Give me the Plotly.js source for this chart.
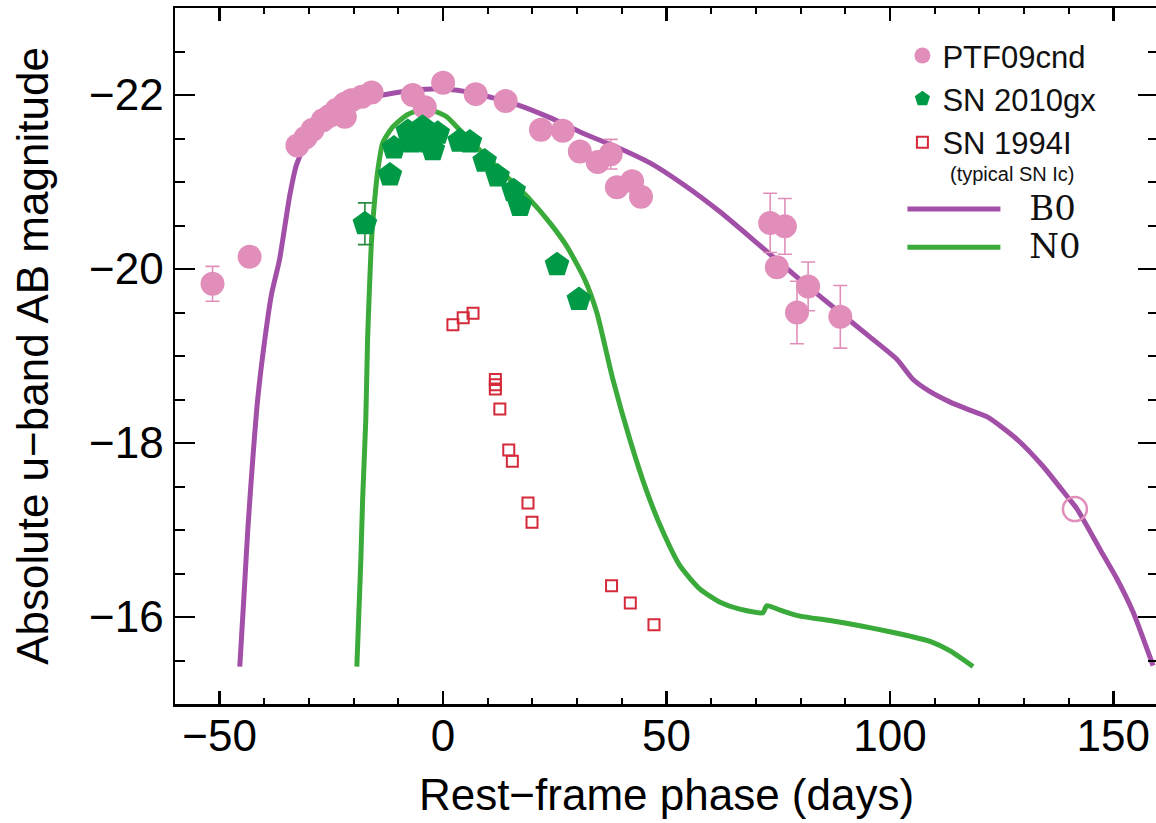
<!DOCTYPE html>
<html><head><meta charset="utf-8">
<script src="https://cdn.plot.ly/plotly-3.0.1.min.js"></script>
<style>html,body{margin:0;padding:0;overflow:hidden;background:#fff}</style>
</head><body><div id="chart" style="width:1158px;height:823px"></div>
<script>
// PTF09cnd (filled circles)
const ptfX = [-51.6,-43.3,-32.6,-30.8,-29.2,-26.9,-25.4,-23.8,-22.0,-22.0,-20.5,-18.2,-16.0,-6.8,-4.1,0.0,7.3,14.0,21.9,26.8,30.6,34.6,37.5,38.9,42.3,44.3,73.2,76.5,74.7,81.7,79.2,88.9];
const ptfY = [-19.83,-20.14,-21.42,-21.51,-21.60,-21.71,-21.76,-21.83,-21.90,-21.75,-21.94,-21.98,-22.03,-22.00,-21.86,-22.14,-22.01,-21.93,-21.60,-21.59,-21.35,-21.23,-21.32,-20.94,-21.01,-20.83,-20.53,-20.49,-20.02,-19.80,-19.50,-19.45];
// PTF09cnd points that carry error bars
const ptfErrX = [-51.6,37.5,73.2,76.5,81.7,79.2,88.9];
const ptfErrY = [-19.83,-21.32,-20.53,-20.49,-19.80,-19.50,-19.45];
const ptfErr  = [0.20,0.17,0.34,0.32,0.28,0.36,0.36];
// PTF09cnd late point (open circle)
const ptfLateX = [141.4];
const ptfLateY = [-17.24];
// SN 2010gx (pentagons)
const gxX = [-17.5,-11.9,-11.0,-7.9,-7.0,-4.6,-3.4,-2.3,-1.2,3.7,6.0,9.3,12.2,15.8,17.2,25.5,30.4];
const gxY = [-20.52,-21.08,-21.39,-21.58,-21.46,-21.63,-21.46,-21.37,-21.56,-21.47,-21.46,-21.24,-21.07,-20.90,-20.73,-20.05,-19.65];
const gxErrX = [-17.5];
const gxErrY = [-20.52];
const gxErr  = [0.24];
// SN 1994I (open squares)
const sn94X = [2.2,4.5,6.7,11.7,11.7,11.7,12.7,14.7,15.5,19.0,19.9,37.7,41.9,47.2];
const sn94Y = [-19.36,-19.44,-19.49,-18.73,-18.67,-18.62,-18.39,-17.92,-17.79,-17.31,-17.09,-16.36,-16.16,-15.91];
// B0 model curve
const b0X = [-45.5,-44.6,-43.7,-42.6,-41.5,-39.9,-38.4,-36.6,-34.3,-32.8,-30.8,-28.1,-24.3,-19.8,-13.5,-7.5,0.0,7.1,16.5,23.9,31.3,38.9,46.3,54.1,61.9,70.9,79.8,88.8,95.5,101.6,105.2,109.0,113.5,117.3,121.8,128.5,134.3,139.6,141.9,147.0,150.8,154.4,158.9];
const b0Y = [-15.43,-16.21,-17.01,-17.81,-18.50,-19.19,-19.71,-20.11,-20.85,-21.20,-21.43,-21.64,-21.82,-21.93,-22.00,-22.05,-22.07,-22.02,-21.89,-21.74,-21.56,-21.40,-21.22,-20.96,-20.66,-20.27,-19.88,-19.50,-19.22,-18.96,-18.73,-18.59,-18.47,-18.39,-18.30,-18.04,-17.73,-17.39,-17.24,-16.78,-16.44,-16.06,-15.44];
// N0 model curve
const n0X = [-19.3,-18.9,-18.4,-18.0,-17.3,-16.9,-16.4,-16.0,-15.3,-14.6,-13.5,-11.3,-8.1,-5.2,-2.3,0.8,3.7,8.9,14.3,19.4,23.9,27.7,31.7,34.4,38.0,41.8,45.6,49.2,53.0,57.5,62.0,66.4,71.6,72.4,75.4,79.9,86.6,93.3,100.0,104.5,109.0,113.5,118.6];
const n0Y = [-15.43,-15.98,-16.67,-17.36,-18.27,-19.19,-19.88,-20.34,-20.80,-21.14,-21.45,-21.63,-21.77,-21.83,-21.82,-21.75,-21.60,-21.33,-21.06,-20.80,-20.53,-20.26,-19.88,-19.50,-18.73,-18.04,-17.44,-16.98,-16.59,-16.32,-16.17,-16.09,-16.05,-16.13,-16.08,-16.01,-15.96,-15.90,-15.83,-15.78,-15.72,-15.61,-15.43];
// Axis ticks
const xTicks = [-50,0,50,100,150];
const yTicks = [-22,-20,-18,-16];

const PINK = '#e18fba', PURPLE = '#a24fa8', DKGREEN = '#009a46', GREEN = '#3aaa3a', RED = '#d42a3a';
const LEG = 'Liberation Sans';

const traces = [
  {x:b0X, y:b0Y, mode:'lines', name:'<span style="font-family:DejaVu Serif;font-size:34px">\u2002\u2009B0</span>', legend:'legend2', legendrank:1,
   line:{color:PURPLE, width:5, shape:'spline', smoothing:0.6}},
  {x:n0X, y:n0Y, mode:'lines', name:'<span style="font-family:DejaVu Serif;font-size:34px">\u2002\u2009N0</span>', legend:'legend2', legendrank:2,
   line:{color:GREEN, width:5, shape:'spline', smoothing:0.6}},
  {x:ptfErrX, y:ptfErrY, mode:'markers', showlegend:false, marker:{size:1, opacity:0},
   error_y:{type:'data', array:ptfErr, visible:true, color:PINK, thickness:1.6, width:7}},
  {x:gxErrX, y:gxErrY, mode:'markers', showlegend:false, marker:{size:1, opacity:0},
   error_y:{type:'data', array:gxErr, visible:true, color:'#2a8a40', thickness:1.6, width:7}},
  {x:ptfX, y:ptfY, mode:'markers', name:'PTF09cnd', legendrank:1,
   marker:{symbol:'circle', size:24, color:PINK}},
  {x:ptfLateX, y:ptfLateY, mode:'markers', showlegend:false,
   marker:{symbol:'circle-open', size:24, color:PINK, line:{width:2.5, color:PINK}}},
  {x:gxX, y:gxY, mode:'markers', name:'SN 2010gx', legendrank:2,
   marker:{symbol:'pentagon', size:26, color:DKGREEN}},
  {x:sn94X, y:sn94Y, mode:'markers', name:'SN 1994I', legendrank:3,
   marker:{symbol:'square-open', size:11, color:RED, line:{width:2, color:RED}}}
];

const layout = {
  width:1158, height:823,
  margin:{l:175, r:0, t:8, b:119},
  paper_bgcolor:'#fff', plot_bgcolor:'#fff',
  font:{family:'Liberation Sans, Arial, sans-serif', size:44, color:'#000'},
  showlegend:true,
  legend:{x:0.74, y:0.970, xanchor:'left', yanchor:'top', bgcolor:'rgba(0,0,0,0)',
    font:{family:LEG, size:31, color:'#111'}, itemsizing:'trace', tracegroupgap:0},
  legend2:{x:0.74, y:0.7457, xanchor:'left', yanchor:'top', bgcolor:'rgba(0,0,0,0)',
    font:{family:'DejaVu Serif', size:27, color:'#111'}, tracegroupgap:0, itemwidth:93},
  annotations:[
    {xref:'paper', yref:'paper', x:0.7864, y:0.7615, xanchor:'left', yanchor:'middle', showarrow:false,
     text:'(typical SN Ic)', font:{family:LEG, size:20, color:'#111'}}
  ],
  xaxis:{range:[-60,160], tickmode:'array', tickvals:xTicks, ticks:'inside', ticklen:13, tickwidth:2.5,
    tickcolor:'#000', showline:true, linecolor:'#000', linewidth:2.5, mirror:'ticks', showgrid:false, zeroline:false,
    minor:{dtick:10, ticks:'inside', ticklen:6, tickwidth:2, tickcolor:'#000', showgrid:false},
    tickfont:{size:44}, ticklabelstandoff:-8, title:{text:'Rest\u2212frame phase (days)', font:{size:44}, standoff:20}},
  yaxis:{range:[-15,-23], tickmode:'array', tickvals:yTicks, ticks:'inside', ticklen:20, tickwidth:2.5,
    tickcolor:'#000', showline:true, linecolor:'#000', linewidth:2.5, mirror:'ticks', showgrid:false, zeroline:false,
    minor:{dtick:0.5, ticks:'inside', ticklen:10, tickwidth:2, tickcolor:'#000', showgrid:false},
    tickfont:{size:44}, title:{text:'Absolute u\u2212band AB magnitude', font:{size:44}, standoff:27}}
};

Plotly.newPlot('chart', traces, layout, {displayModeBar:false, staticPlot:true});
</script></body></html>
